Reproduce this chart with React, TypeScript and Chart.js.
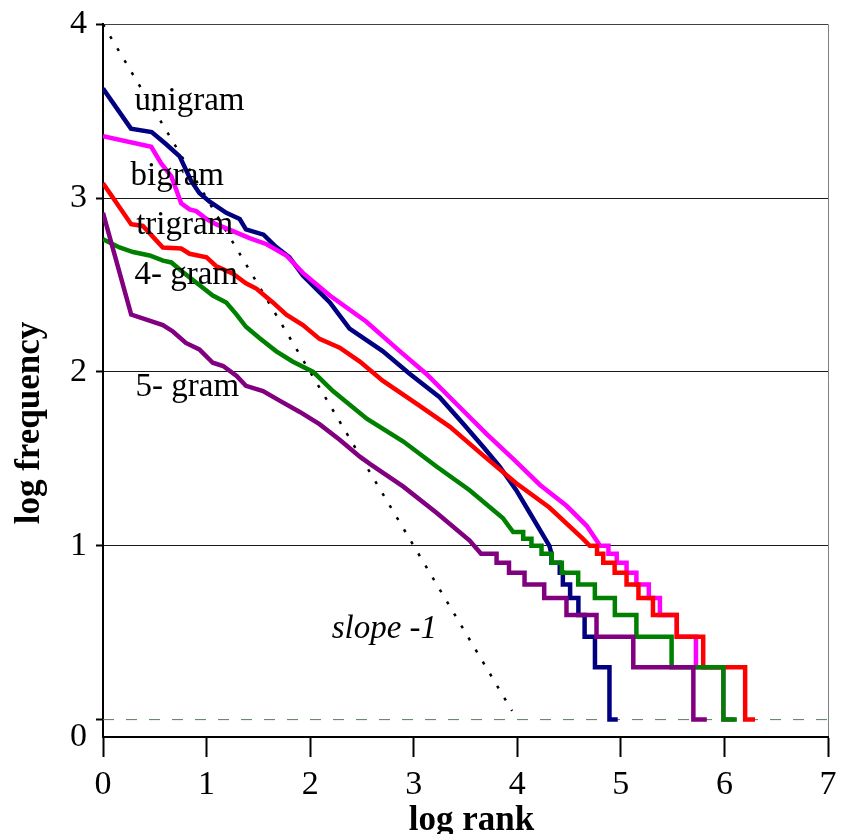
import React, { useEffect, useRef } from "react";
import { Chart, registerables } from "chart.js";

Chart.register(...registerables);

const SERIF = "'Liberation Serif', 'Times New Roman', serif";

// axis ticks
const X_TICKS = [0, 1, 2, 3, 4, 5, 6, 7];
const Y_TICKS = [-0.1, 0, 1, 2, 3, 4];
const Y_TICK_LABELS = ["0", "", "1", "2", "3", "4"];
const Y_GRID_VALUES = [1, 2, 3];

// series names
const SERIES_NAMES = ["unigram", "bigram", "trigram", "4- gram", "5- gram"];
const SERIES_COLORS = ["#000080", "#FF00FF", "#FF0000", "#008000", "#800080"];

// unigram
const UNI_X = [0, 0.27, 0.47, 0.61, 0.74, 0.85, 0.93, 1.03, 1.19, 1.32, 1.38, 1.55, 1.67, 1.8, 1.93, 2.19, 2.38, 2.7, 2.96, 3.25, 3.48, 3.67, 3.83, 3.99, 4.12, 4.25, 4.31, 4.33, 4.33, 4.41, 4.41, 4.44, 4.44, 4.51, 4.51, 4.59, 4.59, 4.65, 4.65, 4.75, 4.75, 4.89, 4.89, 4.97];
const UNI_Y = [3.63, 3.4, 3.38, 3.31, 3.24, 3.1, 3.03, 2.98, 2.915, 2.88, 2.82, 2.79, 2.72, 2.66, 2.555, 2.4, 2.25, 2.12, 1.99, 1.855, 1.7, 1.57, 1.456, 1.32, 1.19, 1.06, 1.0, 0.954, 0.903, 0.903, 0.845, 0.845, 0.778, 0.778, 0.699, 0.699, 0.602, 0.602, 0.477, 0.477, 0.301, 0.301, 0, 0];

// bigram
const BI_X = [0, 0.466, 0.562, 0.66, 0.755, 0.836, 0.9, 1.0, 1.09, 1.255, 1.415, 1.58, 1.77, 1.93, 2.19, 2.54, 2.865, 3.12, 3.44, 3.7, 3.96, 4.22, 4.475, 4.67, 4.8, 4.88, 4.88, 4.96, 4.96, 5.055, 5.055, 5.15, 5.15, 5.27, 5.27, 5.377, 5.377, 5.54, 5.54, 5.725, 5.725, 5.99, 5.99, 6.1];
const BI_Y = [3.356, 3.295, 3.2, 3.125, 2.97, 2.935, 2.925, 2.88, 2.85, 2.81, 2.77, 2.735, 2.67, 2.57, 2.44, 2.29, 2.12, 1.99, 1.8, 1.645, 1.5, 1.35, 1.23, 1.115, 1.0, 1.0, 0.954, 0.954, 0.903, 0.903, 0.845, 0.845, 0.778, 0.778, 0.699, 0.699, 0.602, 0.602, 0.477, 0.477, 0.301, 0.301, 0, 0];

// trigram
const TRI_X = [0, 0.272, 0.385, 0.578, 0.755, 0.836, 1.0, 1.09, 1.255, 1.38, 1.48, 1.64, 1.77, 1.93, 2.09, 2.285, 2.48, 2.7, 3.03, 3.35, 3.67, 3.99, 4.31, 4.635, 4.7, 4.77, 4.77, 4.83, 4.83, 4.94, 4.94, 5.055, 5.055, 5.17, 5.17, 5.31, 5.31, 5.54, 5.54, 5.795, 5.795, 6.2, 6.2, 6.295];
const TRI_Y = [3.086, 2.85, 2.84, 2.716, 2.71, 2.68, 2.66, 2.61, 2.565, 2.51, 2.48, 2.4, 2.33, 2.27, 2.19, 2.14, 2.06, 1.95, 1.816, 1.684, 1.52, 1.36, 1.22, 1.04, 1.0, 1.0, 0.954, 0.954, 0.903, 0.903, 0.845, 0.845, 0.778, 0.778, 0.699, 0.699, 0.602, 0.602, 0.477, 0.477, 0.301, 0.301, 0, 0];

// 4-gram
const FOUR_X = [0, 0.16, 0.29, 0.45, 0.58, 0.66, 0.77, 0.93, 1.06, 1.19, 1.29, 1.38, 1.51, 1.67, 1.83, 2.03, 2.22, 2.55, 2.9, 3.22, 3.54, 3.86, 3.96, 4.057, 4.057, 4.137, 4.137, 4.234, 4.234, 4.333, 4.333, 4.43, 4.43, 4.588, 4.588, 4.749, 4.749, 4.942, 4.942, 5.15, 5.15, 5.49, 5.49, 5.99, 5.99, 6.12];
const FOUR_Y = [2.764, 2.716, 2.69, 2.67, 2.64, 2.63, 2.575, 2.5, 2.44, 2.4, 2.33, 2.26, 2.195, 2.12, 2.06, 2.0, 1.89, 1.73, 1.6, 1.456, 1.32, 1.16, 1.079, 1.079, 1.041, 1.041, 1.0, 1.0, 0.954, 0.954, 0.903, 0.903, 0.845, 0.845, 0.778, 0.778, 0.699, 0.699, 0.602, 0.602, 0.477, 0.477, 0.301, 0.301, 0, 0];

// 5-gram
const FIVE_X = [0, 0.272, 0.578, 0.675, 0.8, 0.93, 1.06, 1.16, 1.29, 1.38, 1.545, 1.705, 1.9, 2.09, 2.285, 2.48, 2.58, 2.9, 3.22, 3.54, 3.65, 3.8, 3.8, 3.92, 3.92, 4.07, 4.07, 4.26, 4.26, 4.475, 4.475, 4.765, 4.765, 5.12, 5.12, 5.7, 5.7, 5.83];
const FIVE_Y = [2.916, 2.33, 2.27, 2.233, 2.167, 2.13, 2.053, 2.034, 1.977, 1.92, 1.89, 1.835, 1.77, 1.7, 1.61, 1.513, 1.47, 1.34, 1.19, 1.03, 0.954, 0.954, 0.903, 0.903, 0.845, 0.845, 0.778, 0.778, 0.699, 0.699, 0.602, 0.602, 0.477, 0.477, 0.301, 0.301, 0, 0];

// reference lines
const SLOPE_X = [0, 3.95];
const SLOPE_Y = [4, 0.05];
const ZERO_X = [0, 7];
const ZERO_Y = [0, 0];

// in-plot labels (data coordinates of the text's left baseline)
const LABEL_X = [0.304, 0.266, 0.32, 0.304, 0.314];
const LABEL_Y = [3.505, 3.078, 2.793, 2.508, 1.864];
const SLOPE_LABEL = "slope -1";
const SLOPE_LABEL_X = 2.208;
const SLOPE_LABEL_Y = 0.469;

const X_TITLE = "log rank";
const Y_TITLE = "log frequency";

const zip = (xs: number[], ys: number[]) => xs.map((x, i) => ({ x, y: ys[i] }));

const textPlugin = {
  id: "textPlugin",
  afterDatasetsDraw(chart: any) {
    const { ctx, scales, chartArea } = chart;
    const xs = scales.x;
    const ys = scales.y;
    ctx.save();
    ctx.fillStyle = "#000";
    ctx.textAlign = "left";
    ctx.textBaseline = "alphabetic";
    ctx.font = `33px ${SERIF}`;
    SERIES_NAMES.forEach((name, i) => {
      ctx.fillText(name, xs.getPixelForValue(LABEL_X[i]), ys.getPixelForValue(LABEL_Y[i]));
    });
    ctx.font = `italic 33px ${SERIF}`;
    ctx.fillText(SLOPE_LABEL, xs.getPixelForValue(SLOPE_LABEL_X), ys.getPixelForValue(SLOPE_LABEL_Y));

    // axis titles
    ctx.font = `bold 35px ${SERIF}`;
    ctx.textAlign = "center";
    ctx.fillText(X_TITLE, (chartArea.left + chartArea.right) / 2 + 6, 830);
    ctx.translate(39, 423);
    ctx.rotate(-Math.PI / 2);
    ctx.fillText(Y_TITLE, 0, 0);
    ctx.restore();
  },
};

export default function App() {
  const ref = useRef<HTMLCanvasElement | null>(null);

  useEffect(() => {
    if (!ref.current) return;
    const series = [
      [UNI_X, UNI_Y],
      [BI_X, BI_Y],
      [TRI_X, TRI_Y],
      [FOUR_X, FOUR_Y],
      [FIVE_X, FIVE_Y],
    ];
    const datasets: any[] = series.map(([xs, ys], i) => ({
      label: SERIES_NAMES[i],
      data: zip(xs, ys),
      borderColor: SERIES_COLORS[i],
      backgroundColor: SERIES_COLORS[i],
      borderWidth: 4.5,
      pointRadius: 0,
      tension: 0,
      fill: false,
      order: 5 - i,
    }));
    datasets.push({
      label: "slope -1",
      data: zip(SLOPE_X, SLOPE_Y),
      borderColor: "#000",
      borderWidth: 2.5,
      borderDash: [3, 11],
      pointRadius: 0,
      fill: false,
      order: 9,
    });
    datasets.push({
      label: "zero",
      data: zip(ZERO_X, ZERO_Y),
      borderColor: "#5a7a5a",
      borderWidth: 1,
      borderDash: [11, 12],
      pointRadius: 0,
      fill: false,
      order: 10,
    });

    const chart = new Chart(ref.current, {
      type: "line",
      data: { datasets },
      options: {
        animation: false,
        responsive: false,
        maintainAspectRatio: false,
        layout: { padding: { left: 0, right: 19, top: 16, bottom: 0 } },
        plugins: { legend: { display: false }, tooltip: { enabled: false }, title: { display: false } },
        scales: {
          x: {
            type: "linear",
            min: 0,
            max: 7,
            afterBuildTicks: (s: any) => {
              s.ticks = X_TICKS.map((v) => ({ value: v }));
            },
            afterFit: (s: any) => {
              s.height = 97;
            },
            grid: {
              color: (c: any) => (c.tick && c.tick.value === 7 ? "#808080" : "rgba(0,0,0,0)"),
              lineWidth: 1,
              tickColor: "#000",
              tickLength: 20,
              tickWidth: 2,
            },
            border: { color: "#000", width: 2 },
            ticks: {
              color: "#000",
              font: { family: SERIF, size: 34, lineHeight: 1.2 },
              padding: 8,
              maxRotation: 0,
              autoSkip: false,
              callback: (v: any) => String(v),
            },
          },
          y: {
            type: "linear",
            min: -0.1,
            max: 4,
            afterBuildTicks: (s: any) => {
              s.ticks = Y_TICKS.map((v) => ({ value: v }));
            },
            afterFit: (s: any) => {
              s.width = 103;
            },
            grid: {
              color: (c: any) => {
                const v = c.tick ? c.tick.value : null;
                if (Y_GRID_VALUES.includes(v)) return "#1a1a1a";
                if (v === 4) return "#404040";
                return "rgba(0,0,0,0)";
              },
              lineWidth: 1,
              tickColor: (c: any) => (c.tick && c.tick.value === -0.1 ? "rgba(0,0,0,0)" : "#000"),
              tickLength: 7,
              tickWidth: 2,
            },
            border: { color: "#000", width: 2 },
            ticks: {
              color: "#000",
              font: { family: SERIF, size: 34, lineHeight: 0.9 },
              padding: 9,
              autoSkip: false,
              callback: (_v: any, i: number) => Y_TICK_LABELS[i],
            },
          },
        },
      },
      plugins: [textPlugin],
    });
    return () => chart.destroy();
  }, []);

  return (
    <div style={{ position: "absolute", left: 0, top: 0, width: 847, height: 834, background: "#fff" }}>
      <canvas ref={ref} width={847} height={834} style={{ width: 847, height: 834, display: "block" }} />
    </div>
  );
}
